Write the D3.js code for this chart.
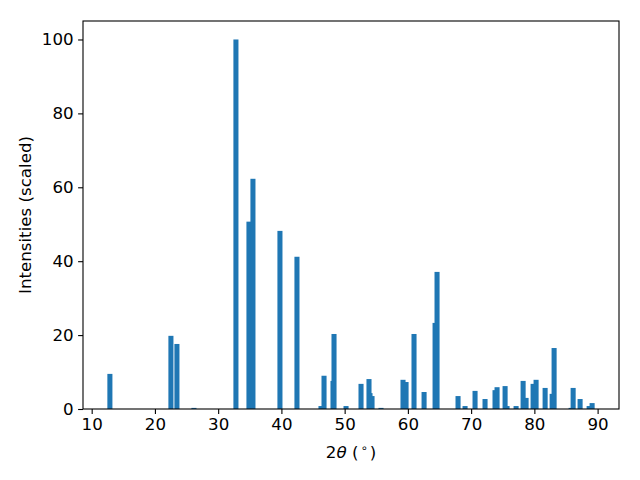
<!DOCTYPE html>
<html>
<head>
<meta charset="utf-8">
<script src="https://cdn.jsdelivr.net/npm/d3@7"></script>
<style>
    body { margin: 0; background: #fff; }
    svg text { font-family: "DejaVu Sans", sans-serif; fill: #000; }
</style>
</head>
<body>
<div id="graph"></div>
<script>
"use strict";

// peak positions (2 theta, degrees) and scaled intensities
const angles = [
    12.88, 22.53, 23.48, 26.17, 32.81, 34.87, 35.50, 39.77, 42.46, 46.26,
    46.74, 48.16, 48.32, 50.22, 52.59, 53.85, 54.01, 54.33, 55.75, 59.23,
    59.71, 60.97, 62.56, 64.30, 64.61, 67.93, 69.04, 70.62, 72.20, 73.78,
    74.10, 75.37, 75.68, 77.11, 78.22, 78.69, 79.80, 80.27, 81.70, 82.81,
    83.12, 85.81, 86.13, 87.23, 88.66, 89.13
];
const intensities = [
    9.5, 19.8, 17.6, 0.3, 100, 50.7, 62.3, 48.2, 41.2, 0.8,
    9.0, 7.6, 20.3, 0.8, 6.8, 8.1, 4.3, 3.5, 0.3, 7.9,
    7.3, 20.3, 4.6, 23.3, 37.1, 3.5, 0.8, 4.9, 2.7, 5.1,
    5.9, 6.2, 0.8, 0.8, 7.6, 3.0, 6.8, 7.9, 5.7, 4.1,
    16.5, 0.3, 5.7, 2.7, 0.8, 1.6
];
const xTicks = [10, 20, 30, 40, 50, 60, 70, 80, 90];
const yTicks = [0, 20, 40, 60, 80, 100];

(function() {
    const svgSize = {
        width : 640,
        height: 480,
    };
    const margin = { top: 21, right: 21, bottom: 71, left: 83 };
    const barWidth = 0.8;
    const fontSize = 16.67;

    window.addEventListener("load", init);

    function init() {
        let svg = d3.select("#graph")
                    .append("svg")
                        .attr("width", svgSize.width)
                        .attr("height", svgSize.height);

        let w = svgSize.width - margin.left - margin.right;
        let h = svgSize.height - margin.top - margin.bottom;

        // matplotlib style 5% margins
        let lo = d3.min(angles) - barWidth / 2;
        let hi = d3.max(angles) + barWidth / 2;
        let pad = (hi - lo) * 0.05;
        let x = d3.scaleLinear().domain([lo - pad, hi + pad]).range([0, w]);
        let y = d3.scaleLinear().domain([0, d3.max(intensities) * 1.05]).range([h, 0]);

        let g = svg.append("g")
                    .attr("transform", "translate(" + margin.left + "," + margin.top + ")");

        let data = angles.map((a, i) => ({ angle: a, value: intensities[i] }));

        g.selectAll("rect.bar")
            .data(data)
            .enter()
            .append("rect")
                .attr("class", "bar")
                .attr("x", d => x(d.angle - barWidth / 2))
                .attr("width", d => x(d.angle + barWidth / 2) - x(d.angle - barWidth / 2))
                .attr("y", d => y(d.value))
                .attr("height", d => h - y(d.value))
                .attr("fill", "#1f77b4");

        let xAxis = g.append("g")
                        .attr("transform", "translate(0," + h + ")")
                        .call(d3.axisBottom(x).tickValues(xTicks).tickSize(4.9).tickPadding(4.5));
        let yAxis = g.append("g")
                        .call(d3.axisLeft(y).tickValues(yTicks).tickSize(4.9).tickPadding(4.5));

        [xAxis, yAxis].forEach(ax => {
            ax.select(".domain").remove();
            ax.selectAll("line").attr("stroke", "#000").attr("stroke-width", 1.1);
            ax.selectAll("text")
                .style("font-size", fontSize + "px")
                .style("font-family", "DejaVu Sans");
        });

        // frame
        g.append("rect")
            .attr("width", w)
            .attr("height", h)
            .attr("fill", "none")
            .attr("stroke", "#000")
            .attr("stroke-width", 1.1);

        // axis labels
        let xl = svg.append("text")
                    .attr("x", margin.left + w / 2)
                    .attr("y", 458)
                    .attr("text-anchor", "middle")
                    .style("font-size", fontSize + "px");
        xl.append("tspan").text("2");
        xl.append("tspan").style("font-style", "italic").text("θ");
        xl.append("tspan").text(" (");
        xl.append("tspan").attr("dy", -6).attr("dx", 2).style("font-size", "11.5px").text("∘");
        xl.append("tspan").attr("dy", 6).attr("dx", 2).text(")");

        svg.append("text")
            .attr("transform", "translate(31," + (margin.top + h / 2) + ") rotate(-90)")
            .attr("text-anchor", "middle")
            .style("font-size", fontSize + "px")
            .text("Intensities (scaled)");
    }
})();
</script>
</body>
</html>
